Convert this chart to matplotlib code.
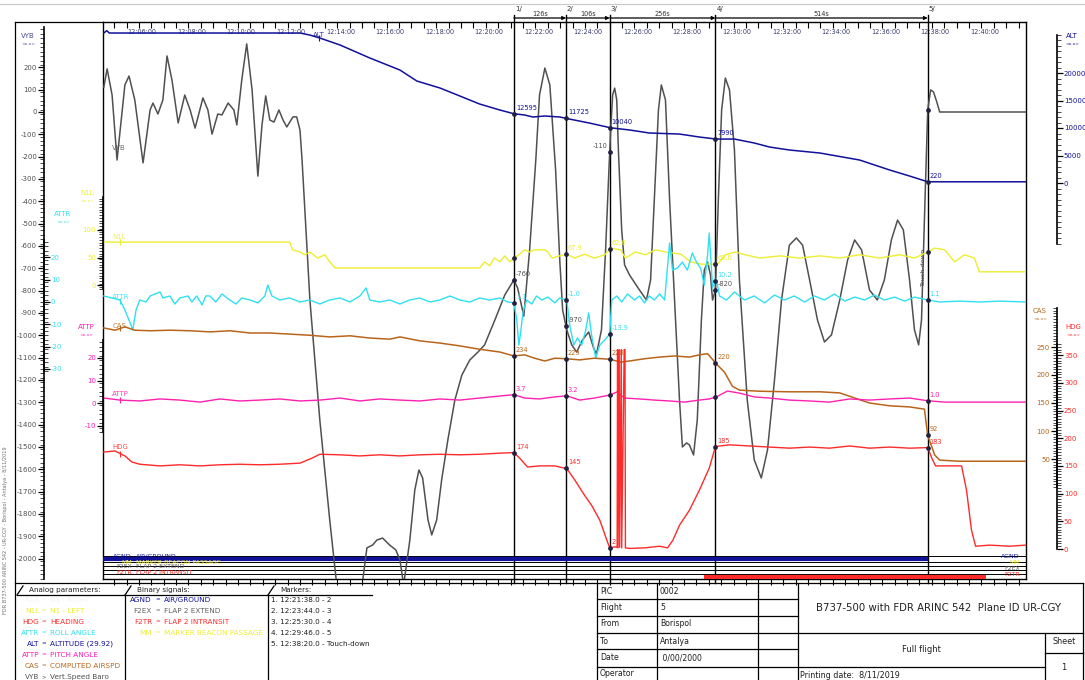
import matplotlib
matplotlib.use("Agg")
import matplotlib.pyplot as plt
from matplotlib.lines import Line2D
import numpy as np

plt.rcParams['font.family'] = ['DejaVu Sans']

# ---------------- data (time = seconds after 12:00:00) ----------------
MARK_T = [1298, 1424, 1530, 1786, 2300]
MARK_NUM = ['1', '2', '3', '4', '5']
MARK_DT = ['126s', '106s', '256s', '514s']
MARK_TEXT = ['1. 12:21:38.0 - 2', '2. 12:23:44.0 - 3', '3. 12:25:30.0 - 4',
             '4. 12:29:46.0 - 5', '5. 12:38:20.0 - Touch-down']

VYB_T = [305, 313, 325, 337, 356, 366, 380, 400, 417, 424, 436, 448, 458, 470, 485, 501, 514, 526,
         545, 557, 567, 581, 591, 606, 620, 627, 639, 651, 664, 678, 688, 697, 707, 717, 729, 739,
         748, 763, 772, 780, 785, 804, 828, 852, 869, 901, 932, 942, 956, 966, 980, 997, 1012, 1022,
         1031, 1046, 1058, 1068, 1077, 1090, 1099, 1111, 1123, 1138, 1155, 1172, 1191, 1211, 1227,
         1252, 1276, 1298, 1307, 1322, 1336, 1351, 1360, 1373, 1385, 1399, 1409, 1416, 1426, 1438,
         1450, 1464, 1479, 1491, 1498, 1510, 1520, 1527, 1532, 1537, 1542, 1547, 1551, 1559, 1566,
         1578, 1602, 1619, 1629, 1638, 1648, 1655, 1665, 1675, 1687, 1699, 1706, 1716, 1723, 1733,
         1742, 1752, 1759, 1767, 1774, 1779, 1786, 1793, 1801, 1810, 1820, 1832, 1844, 1863, 1880,
         1897, 1912, 1929, 1946, 1965, 1982, 1997, 2014, 2033, 2050, 2067, 2087, 2106, 2123, 2140,
         2159, 2178, 2195, 2212, 2227, 2241, 2256, 2268, 2278, 2285, 2292, 2300, 2307, 2314, 2322,
         2329, 2537]
VYB_V = [112, 193, 76, -215, 121, 161, 54, -228, 9, 40, -9, 54, 251, 143, -49, 76, 9, -72,
         63, 9, -99, -9, -13, 40, 9, -58, 143, 305, 99, -287, -58, 72, -36, -45, 9, -36,
         -67, -22, -22, -81, -215, -842, -1379, -1827, -2118, -2408, -2096, -1952, -1939, -1917, -1908, -1939, -1961, -2006,
         -2118, -1917, -1693, -1603, -1639, -1827, -1894, -1827, -1648, -1469, -1290, -1178, -1111, -1075, -1043,
         -931, -819, -752, -788, -914, -618, -215, 76, 197, 121, -260, -663, -887, -976, -1043,
         -1075, -1021, -985, -1057, -1084, -976, -618, -305, -94, 76, 107, 54, -170, -528, -685,
         -730, -797, -842, -752, -394, 9, 121, 54, -394, -842, -1290, -1500, -1482, -1491, -1536,
         -1379, -931, -708, -672, -730, -842, -797, -394, 9, 152, 99, -170, -752, -1290, -1558,
         -1639, -1514, -1200, -842, -596, -564, -596, -752, -931, -1030, -998, -842, -663, -573, -618,
         -797, -842, -752, -573, -484, -528, -752, -976, -1043, -931, -484, 9, 99, 90, 45,
         0, 0]

ALT_T = [305, 312, 318, 780, 804, 828, 877, 949, 1022, 1063, 1119, 1167, 1215, 1264, 1298, 1324, 1344,
         1373, 1409, 1426, 1481, 1532, 1578, 1626, 1699, 1747, 1788, 1832, 1880, 1917, 1965, 2039,
         2135, 2208, 2256, 2300, 2537]
ALT_V = [27270, 27700, 27270, 27270, 26900, 26360, 25090, 22730, 20540, 18540, 17270, 15820, 14360,
         13270, 12595, 12360, 12000, 12180, 12000, 11725, 10900, 10040, 9640, 9090, 8900, 8360, 7990,
         7990, 7270, 6540, 6000, 5450, 4180, 2360, 1270, 220, 220]

N1L_T = [305, 755, 762, 780, 792, 804, 823, 840, 852, 865, 1215, 1227, 1239, 1251, 1264, 1276, 1288,
         1298, 1312, 1324, 1336, 1348, 1360, 1373, 1380, 1390, 1409, 1426, 1445, 1469, 1493, 1518,
         1532, 1556, 1568, 1592, 1617, 1641, 1665, 1702, 1726, 1750, 1791, 1810, 1834, 1858, 1893,
         1942, 1990, 2039, 2087, 2135, 2183, 2232, 2268, 2300, 2317, 2341, 2365, 2389, 2413, 2425, 2537]
N1L_V = [78, 78, 64, 60, 55, 60, 49, 55, 42, 31, 31, 42, 35, 49, 42, 53, 42,
         49, 56, 64, 60, 64, 64, 64, 60, 49, 53, 56, 49, 56, 49, 55,
         67, 64, 49, 60, 55, 64, 60, 56, 42, 38, 38, 55, 60, 55, 49,
         53, 49, 53, 49, 55, 49, 55, 49, 60, 67, 64, 42, 55, 49, 24, 24]

ATTR_T = [305, 325, 344, 356, 368, 375, 383, 392, 407, 417, 429, 441, 448, 465, 477, 489, 509, 518,
          530, 543, 552, 562, 576, 591, 610, 625, 639, 659, 678, 695, 702, 712, 731, 755, 780, 804,
          828, 852, 877, 901, 925, 940, 949, 973, 998, 1022, 1046, 1070, 1095, 1119, 1143, 1167,
          1191, 1215, 1239, 1264, 1283, 1298, 1305, 1310, 1315, 1320, 1329, 1341, 1353, 1365, 1380,
          1397, 1409, 1426, 1433, 1443, 1452, 1462, 1472, 1479, 1486, 1496, 1506, 1518, 1530, 1535,
          1547, 1559, 1573, 1590, 1602, 1614, 1626, 1638, 1651, 1663, 1675, 1682, 1694, 1706, 1718,
          1730, 1740, 1750, 1759, 1767, 1771, 1779, 1788, 1796, 1813, 1832, 1856, 1880, 1905, 1929,
          1953, 1977, 2002, 2026, 2050, 2074, 2099, 2123, 2147, 2171, 2195, 2220, 2244, 2268, 2300,
          2329, 2377, 2426, 2474, 2537]
ATTR_V = [2.7, 1.8, 0.9, -3.6, -9.0, -12.6, -3.6, 0.9, 0, 2.7, 3.6, 4.5, 1.8, 2.7, -0.9, 1.8, 2.7, 0,
          2.7, -1.3, 2.7, 2.7, 0, 3.6, 0.9, -0.9, 1.8, 0.9, -0.4, 2.7, 7.6, 2.7, 0.9, 1.8, 0, 0.9,
          -0.9, 0.9, 1.8, 0, 2.7, 6.3, 0.9, 0, 0.9, -0.9, 0.9, 1.8, 0, 0.9, 2.7, 0.9,
          0, 1.8, 0.9, 1.8, 0, -0.4, -8.1, -19.3, -12.6, -4.5, 0.9, -0.9, 2.7, 0.9, 2.2,
          -0.4, 1.8, 0.9, -10.3, -19.3, -16.1, -19.3, -12.6, -4.9, -14.8, -25.1, -19.3, -17.0, -14.3, 0.9,
          2.7, 0, 3.6, 0.9, 2.7, -0.4, 2.7, 0.9, 3.6, 0.9, 26.5, 14.3, 15.2, 17.9, 14.3,
          22.0, 17.9, 15.2, 7.6, 21.1, 30.9, 6.3, 10.3, 2.7, 0.9, 4.5, 0.9, 2.7, -0.4, 3.1,
          0.9, 2.7, 0, 2.7, 0.9, 3.6, 0.4, 2.2, 0.9, 3.1, 0.9, 2.2, 0.4, 2.2, 0.9,
          0, 0.4, 0, 0.4, 0]

CAS_T = [305, 332, 356, 380, 417, 465, 514, 562, 610, 659, 707, 755, 804, 852, 901, 949, 998, 1022,
         1070, 1119, 1167, 1215, 1264, 1298, 1324, 1348, 1373, 1397, 1426, 1457, 1493, 1532, 1556,
         1578, 1614, 1651, 1687, 1723, 1747, 1767, 1788, 1808, 1827, 1844, 1893, 1965, 2039, 2087,
         2123, 2159, 2208, 2256, 2292, 2300, 2317, 2329, 2377, 2537]
CAS_V = [284, 280, 286, 280, 279, 280, 279, 277, 279, 275, 275, 273, 271, 268, 270, 266, 264, 268,
         261, 257, 252, 246, 241, 234, 236, 230, 225, 230, 229, 227, 230, 228, 223,
         225, 229, 232, 234, 232, 236, 238, 220, 205, 180, 173, 171, 170, 170, 168,
         159, 150, 145, 143, 139, 92, 57, 48, 46, 46]

ATTP_T = [305, 344, 392, 441, 489, 538, 586, 634, 683, 731, 780, 828, 877, 925, 973, 1022, 1070, 1119,
          1167, 1215, 1264, 1298, 1324, 1360, 1397, 1426, 1457, 1493, 1532, 1547, 1566, 1602, 1638,
          1675, 1711, 1747, 1771, 1788, 1815, 1844, 1880, 1917, 1965, 2014, 2062, 2111, 2159, 2208,
          2256, 2300, 2341, 2401, 2474, 2537]
ATTP_V = [2.2, 1.3, 0.9, 1.8, 1.3, 0.4, 1.8, 0.9, 1.3, 1.8, 0.9, 1.3, 2.2, 0.9, 1.8, 1.3, 0.9, 1.8,
          1.3, 2.2, 3.1, 3.7, 2.2, 1.8, 2.7, 3.2, 1.3, 2.2, 3.6, 4.9, 2.2, 1.8, 1.3,
          0.9, 0.4, 1.3, 1.8, 2.7, 5.3, 4.4, 2.7, 2.2, 1.3, 0.9, 0.4, 1.8, 1.3, 1.8,
          2.2, 1.0, 0.4, 0.4, 0.4, 0.4]

HDG_T = [305, 332, 356, 373, 392, 441, 489, 538, 586, 634, 683, 731, 780, 809, 828, 877, 925, 973,
         1022, 1070, 1119, 1167, 1215, 1264, 1298, 1312, 1331, 1360, 1397, 1426, 1445, 1469, 1486,
         1506, 1523, 1530, 1542, 1548, 1549, 1550, 1553, 1554, 1558, 1559, 1565, 1567, 1568, 1578,
         1614, 1651, 1670, 1683, 1699, 1723, 1747, 1771, 1786, 1820, 1868, 1917, 1965, 2014, 2062,
         2111, 2159, 2208, 2256, 2300, 2310, 2319, 2353, 2382, 2394, 2406, 2416, 2450, 2498, 2537]
HDG_V = [175, 177, 168, 157, 153, 150, 152, 150, 152, 153, 152, 153, 155, 164, 171, 170, 168, 170,
         168, 170, 171, 170, 171, 173, 174, 164, 148, 150, 150, 145, 125, 97, 79,
         52, 16, 2, 4, 3, 360, 2, 360, 3, 360, 2, 360, 360, 2, 1,
         2, 5, 2, 16, 43, 70, 106, 146, 185, 188, 186, 184, 182, 184, 182,
         186, 182, 184, 182, 183, 164, 150, 150, 150, 106, 34, 5, 7, 5, 7]

AGND_ON = (303, 2300)
F2TR_ON = (1759, 2442)

ALT_LBL = ['12595', '11725', '10040', '7990', '220']
VYB_LBL = ['-760', '-970', '-110', '-820', '']
N1L_LBL = ['', '67.9', '62.0', '60.0', '']
ATTR_LBL = ['1.1', '-1.0', '-13.9', '10.2', '1.1']
CAS_LBL = ['234', '229', '228', '220', '92']
ATTP_LBL = ['3.7', '3.2', '', '', '1.0']
HDG_LBL = ['174', '145', '2', '185', '183']

TIME_MIN = list(range(6, 41, 2))

ANALOG = [('N1R', 'N1 - RIGHT', '#f2f2f2'), ('N1L', 'N1 - LEFT', '#eeee30'),
          ('HDG', 'HEADING', '#ff2a2a'), ('ATTR', 'ROLL ANGLE', '#30e0f0'),
          ('ALT', 'ALTITUDE (29.92)', '#10109a'), ('ATTP', 'PITCH ANGLE', '#ff20b0'),
          ('CAS', 'COMPUTED AIRSPD', '#b8651a'), ('VYB', 'Vert.Speed Baro', '#505050')]
BINARY = [('AGND', 'AIR/GROUND', '#10109a'), ('F2EX', 'FLAP 2 EXTEND', '#606060'),
          ('F2TR', 'FLAP 2 INTRANSIT', '#ff2a2a'), ('MM', 'MARKER BEACON PASSAGE', '#eeee30')]
TABLE_KEYS = ['PIC', 'Flight', 'From', 'To', 'Date', 'Operator']
TABLE_VALS = ['0002', '5', 'Borispol', 'Antalya', ' 0/00/2000', '']

# ---------------- colours ----------------
C_ALT, C_VYB, C_N1L, C_ATTR = '#10109a', '#505050', '#eeee30', '#30e0f0'
C_CAS, C_ATTP, C_HDG = '#b8651a', '#ff20b0', '#ff2a2a'

# ---------------- layout helpers ----------------
W, H = 1085, 680
fig = plt.figure(figsize=(W / 100, H / 100), dpi=100)
PX0, PX1, PY0, PY1 = 103, 1026, 22, 579
T0, T1 = 303, 2538
TOP = 1 + 4 / (PY1 - PY0)


def frect(x0, y0, x1, y1):
    return [x0 / W, 1 - y1 / H, (x1 - x0) / W, (y1 - y0) / H]


def ylims(zero_px, ppu):
    return ((zero_px - PY1) / ppu, (zero_px - PY0) / ppu)


def hline(y, x0, x1, lw=0.9, color='black'):
    fig.add_artist(Line2D([x0 / W, x1 / W], [1 - y / H, 1 - y / H], lw=lw, color=color))


def vline(x, y0, y1, lw=0.9, color='black'):
    fig.add_artist(Line2D([x / W, x / W], [1 - y0 / H, 1 - y1 / H], lw=lw, color=color))


def ftxt(x, y, s, **kw):
    kw.setdefault('va', 'center')
    kw.setdefault('fontsize', 5.2)
    fig.text(x / W, 1 - y / H, s, **kw)


SC_VYB = ylims(112, 0.2233)
SC_ATTR = ylims(302, 2.23)
SC_N1L = ylims(285, 0.55)
SC_ATTP = ylims(403, 2.25)
SC_ALT = ylims(183, 0.0055)
SC_CAS = ylims(487, 0.56)
SC_HDG = ylims(549, 0.554)

# ---------------- main axes ----------------
ax = fig.add_axes(frect(PX0, PY0, PX1, PY1))
ax.set_xlim(T0, T1)
ax.set_ylim(*SC_VYB)
ax.set_yticks([])
for s in ax.spines.values():
    s.set_linewidth(1.0)
ax.xaxis.set_ticks_position('top')
ax.set_xticks(np.arange(330, T1, 30))
ax.tick_params(axis='x', direction='in', length=4, width=0.8, labeltop=False, labelbottom=False)

axb = fig.add_axes(frect(PX0, PY0, PX1, PY1), facecolor='none')
axb.set_xlim(T0, T1)
axb.set_yticks([])
for s in axb.spines.values():
    s.set_visible(False)
axb.set_xticks(np.arange(330, T1, 30))
axb.tick_params(axis='x', direction='out', length=4, width=0.8, labelbottom=False)

for m in TIME_MIN:
    ax.annotate('12:%02d:00' % m, xy=(m * 60, 1), xycoords=('data', 'axes fraction'),
                xytext=(1, -10), textcoords='offset pixels', fontsize=4.7, color='#3a3a70',
                ha='left', va='center')


def overlay(lims):
    a = fig.add_axes(frect(PX0, PY0, PX1, PY1), facecolor='none')
    a.set_xlim(T0, T1)
    a.set_ylim(*lims)
    a.axis('off')
    return a


# binary strips (drawn on a pixel-row scale)
axbin = overlay((PY1, PY0))
for ypx in [556, 562, 566, 570, 574]:
    axbin.axhline(ypx, color='black', lw=0.7)
axbin.hlines(559, AGND_ON[0], AGND_ON[1], color=C_ALT, lw=3.0)
axbin.hlines(577, F2TR_ON[0], F2TR_ON[1], color=C_HDG, lw=3.0)
binlab = [('AGND', 'AIR/GROUND', C_ALT, 556), ('MM', 'MARKER BEACON PASSAGE', C_N1L, 562),
          ('F2EX', 'FLAP 2 EXTEND', '#606060', 567), ('F2TR', 'FLAP 2 INTRANSIT', C_HDG, 573)]
for nm, ds, col, yy in binlab:
    axbin.text(T0 + 70, yy, nm, color=col, fontsize=4.5, ha='right', va='center')
    axbin.text(T0 + 80, yy, ds, color=col, fontsize=4.5, ha='left', va='center')
    axbin.text(T1 - 15, yy + 1, nm, color=col, fontsize=4.5, ha='right', va='center')

# ---------------- series ----------------
a_vyb = overlay(SC_VYB)
a_vyb.plot(VYB_T, VYB_V, color=C_VYB, lw=1.1)
a_n1l = overlay(SC_N1L)
a_n1l.plot(N1L_T, N1L_V, color=C_N1L, lw=1.0)
a_attr = overlay(SC_ATTR)
a_attr.plot(ATTR_T, ATTR_V, color=C_ATTR, lw=1.0)
a_cas = overlay(SC_CAS)
a_cas.plot(CAS_T, CAS_V, color=C_CAS, lw=1.1)
a_attp = overlay(SC_ATTP)
a_attp.plot(ATTP_T, ATTP_V, color=C_ATTP, lw=1.0)
a_hdg = overlay(SC_HDG)
a_hdg.plot(HDG_T, HDG_V, color=C_HDG, lw=1.0)
a_alt = overlay(SC_ALT)
a_alt.plot(ALT_T, ALT_V, color=C_ALT, lw=1.1)

series = [(a_vyb, VYB_T, VYB_V, 'VYB', VYB_LBL, C_VYB, 6),
          (a_n1l, N1L_T, N1L_V, 'N1L', N1L_LBL, C_N1L, 5),
          (a_attr, ATTR_T, ATTR_V, 'ATTR', ATTR_LBL, C_ATTR, 2),
          (a_cas, CAS_T, CAS_V, 'CAS', CAS_LBL, C_CAS, 4),
          (a_attp, ATTP_T, ATTP_V, 'ATTP', ATTP_LBL, C_ATTP, 5),
          (a_hdg, HDG_T, HDG_V, 'HDG', HDG_LBL, C_HDG, 4),
          (a_alt, ALT_T, ALT_V, 'ALT', ALT_LBL, C_ALT, 1)]
for a, tt, vv, nm, lbls, col, dy in series:
    tlab = 811 if nm == 'ALT' else 330
    v0 = -190 if nm == 'VYB' else np.interp(tlab, tt, vv)
    a.annotate(nm, xy=(tlab, v0), xytext=(-2 if nm != 'ALT' else 0, dy), textcoords='offset pixels',
               fontsize=5, color=col, ha='left', va='center', alpha=0.85)
    if nm != 'VYB':
        a.plot([tlab + 15], [np.interp(tlab + 15, tt, vv)], marker='|', ms=5, color=col, mew=0.8)
    for mt, lb in zip(MARK_T, lbls):
        vm = np.interp(mt, tt, vv)
        a.plot([mt], [vm], 'o', ms=2.4, color='#202040')
        if lb:
            left = (nm == 'VYB' and lb == '-110')
            a.annotate(lb, xy=(mt, vm), xytext=(-2 if left else 2, 3), textcoords='offset pixels',
                       fontsize=4.8, color=col, ha='right' if left else 'left', va='bottom')

# marker lines and header
for i, mt in enumerate(MARK_T):
    ax.axvline(mt, ymin=-4 / 557, ymax=1 + 7 / 557, color='black', lw=1.0, clip_on=False)
    ax.annotate(MARK_NUM[i] + '/', xy=(mt, 1), xycoords=('data', 'axes fraction'),
                xytext=(1, 13), textcoords='offset pixels', fontsize=5, color='#303030',
                ha='left', va='center')
for i in range(4):
    ax.annotate('', xy=(MARK_T[i + 1], TOP), xycoords=('data', 'axes fraction'),
                xytext=(MARK_T[i], TOP), textcoords=('data', 'axes fraction'),
                arrowprops=dict(arrowstyle='-|>', lw=0.9, color='black', mutation_scale=5,
                                shrinkA=0, shrinkB=0))
    ax.annotate(MARK_DT[i], xy=((MARK_T[i] + MARK_T[i + 1]) / 2, 1), xycoords=('data', 'axes fraction'),
                xytext=(0, 8), textcoords='offset pixels', fontsize=4.7, color='#303030',
                ha='center', va='center')
a_vyb.annotate('Touch-down', xy=(MARK_T[4], -700), xytext=(-4, 0), textcoords='offset pixels',
               rotation=90, fontsize=4.6, color='#404040', ha='center', va='center')


# ---------------- rulers ----------------
def ruler(xs, lims, lo, hi, major, minor, lab_lo, lab_hi, col, side, fmt='{:g}', mlen=4):
    if side == 'left':
        a = fig.add_axes(frect(xs, PY0, xs + 8, PY1), facecolor='none')
    else:
        a = fig.add_axes(frect(xs - 8, PY0, xs, PY1), facecolor='none')
    for s in a.spines:
        a.spines[s].set_visible(s == side)
    a.spines[side].set_bounds(lo, hi)
    a.spines[side].set_linewidth(1.2)
    a.set_ylim(*lims)
    a.set_xticks([])
    a.yaxis.set_ticks_position(side)
    mj = np.arange(lab_lo, lab_hi + 1e-9, major)
    a.set_yticks(mj)
    a.set_yticklabels([fmt.format(v) for v in mj])
    a.set_yticks(np.arange(lo, hi + 1e-9, minor), minor=True)
    a.tick_params(which='major', length=mlen, width=0.9, labelsize=5, labelcolor=col, pad=1)
    a.tick_params(which='minor', length=3, width=0.5)
    return a


ruler(44, SC_VYB, -2090, 380, 100, 20, -2000, 200, C_VYB, 'left')
ruler(44, SC_ATTR, -31, 28, 10, 2, -30, 20, C_ATTR, 'right')
ruler(103, SC_N1L, -8, 160, 50, 5, 0, 100, C_N1L, 'left')
ruler(103, SC_ATTP, -13, 28, 10, 2, -10, 20, C_ATTP, 'left')
ruler(1057, SC_ALT, -11000, 27000, 5000, 1000, 0, 20000, C_ALT, 'right')
ruler(1057, SC_CAS, 0, 320, 50, 5, 50, 250, C_CAS, 'left')
ruler(1057, SC_HDG, 0, 370, 50, 5, 0, 350, C_HDG, 'right')

# axis titles
for x, y, nm, col in [(28, 36, 'VYB', '#4a4a9a'), (87, 193, 'N1L', C_N1L), (63, 214, 'ATTR', C_ATTR),
                      (86, 327, 'ATTP', C_ATTP), (1072, 36, 'ALT', C_ALT), (1040, 311, 'CAS', C_CAS),
                      (1073, 327, 'HDG', C_HDG)]:
    ftxt(x, y, nm, color=col, fontsize=5, ha='center')
    ftxt(x, y + 8, '<x.x>', color=col, fontsize=3.2, ha='center')

# ---------------- frame ----------------
hline(4, 0, 1085, lw=0.8, color='#c8c8c8')
hline(22, 15, 103)
vline(15, 22, 680)
hline(583, 15, 1083)

# legend panels
for xs, xe, title in [(17, 125, 'Analog parameters:'), (125, 268, 'Binary signals:'), (268, 372, 'Markers:')]:
    fig.add_artist(Line2D([xs / W, (xs + 6) / W], [1 - 595 / H, 1 - 586 / H], lw=0.9, color='black'))
    hline(595, xs, xe)
    ftxt(xs + 12, 590, title, color='#202020', fontsize=5.2)
vline(125, 595, 680)
vline(268, 595, 680)

for i, (nm, ds, col) in enumerate(ANALOG):
    y = 600 + 11 * i
    sign = '>' if nm == 'VYB' else '='
    ftxt(39, y, nm, color=col, ha='right')
    ftxt(44, y, sign, color=col if nm != 'VYB' else '#505050', fontsize=4, ha='center')
    ftxt(50, y, ds, color=col, ha='left')
for i, (nm, ds, col) in enumerate(BINARY):
    y = 600 + 11 * i
    ftxt(152, y, nm, color=col, ha='right')
    ftxt(158, y, '=', color=col, fontsize=4, ha='center')
    ftxt(164, y, ds, color=col, ha='left')
for i, s in enumerate(MARK_TEXT):
    ftxt(271, 600 + 11 * i, s, color='#202020', ha='left')

# info table
for x in [597, 657, 758, 798, 1083]:
    vline(x, 583, 680)
vline(1045, 633, 680)
for y in [599, 616, 633, 649, 667]:
    hline(y, 597, 798)
hline(633, 798, 1083)
hline(667, 798, 1045)
hline(653, 1045, 1083)
for i, (k, v) in enumerate(zip(TABLE_KEYS, TABLE_VALS)):
    yc = [591, 608, 624, 641, 658, 674][i]
    ftxt(600, yc, k, color='#202020', fontsize=5.6)
    ftxt(660, yc, v, color='#202020', fontsize=5.6)
ftxt(938, 608, 'B737-500 with FDR ARINC 542  Plane ID UR-CGY', color='#202020', fontsize=7.3, ha='center')
ftxt(921, 650, 'Full flight', color='#202020', fontsize=6, ha='center')
ftxt(800, 675, 'Printing date:  8/11/2019', color='#202020', fontsize=5.8, ha='left')
ftxt(1064, 641, 'Sheet', color='#202020', fontsize=5.8, ha='center')
ftxt(1064, 667, '1', color='#202020', fontsize=6, ha='center')

fig.text(6 / W, 1 - 530 / H, 'FDR B737-500 ARINC 542 - UR-CGY - Borispol - Antalya - 8/11/2019',
         rotation=90, fontsize=3.6, color='#707070', ha='center', va='center')

fig.savefig('out.png', dpi=100)
